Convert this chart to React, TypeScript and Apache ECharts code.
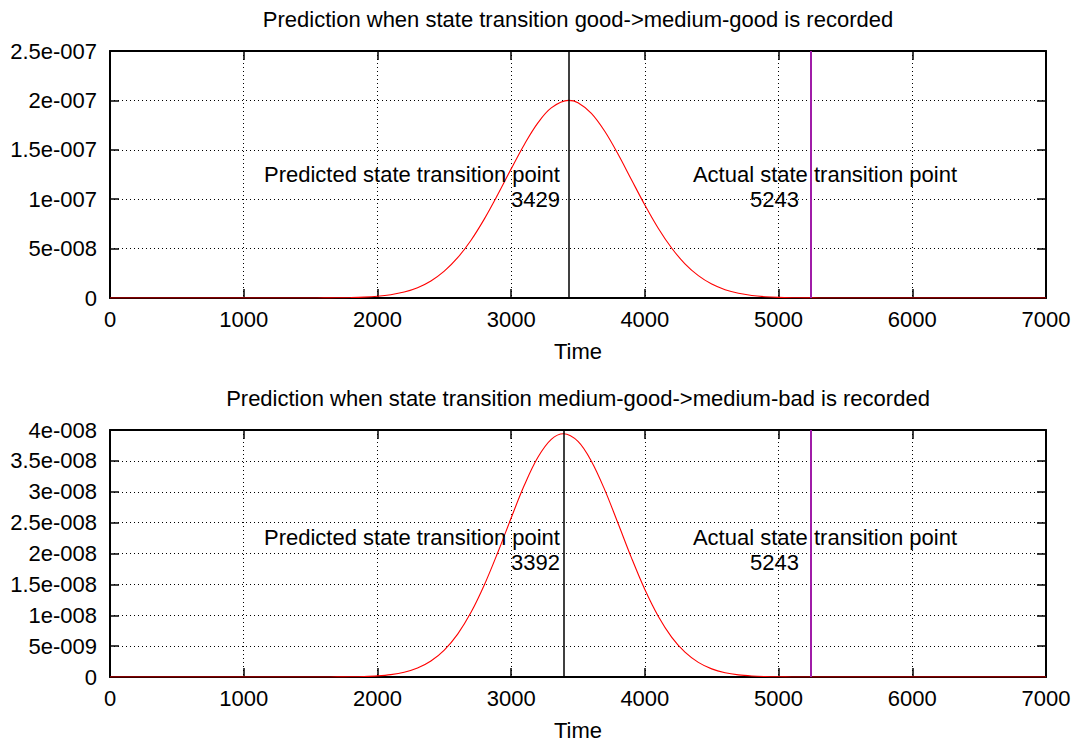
import { useEffect, useRef } from "react";
import * as echarts from "echarts";

// ---- Data ----
const xTickLabels = ["0", "1000", "2000", "3000", "4000", "5000", "6000", "7000"];
const topYTickLabels = ["0", "5e-008", "1e-007", "1.5e-007", "2e-007", "2.5e-007"];
const bottomYTickLabels = [
  "0", "5e-009", "1e-008", "1.5e-008", "2e-008", "2.5e-008", "3e-008", "3.5e-008", "4e-008",
];

const topTitle = "Prediction when state transition good->medium-good is recorded";
const bottomTitle = "Prediction when state transition medium-good->medium-bad is recorded";
const xAxisName = "Time";
const predictedText = "Predicted state transition point";
const actualText = "Actual state transition point";

const topPredicted = 3429;
const bottomPredicted = 3392;
const actualTransition = 5243;

const topTimes = [
  0, 500, 1000, 1500, 1600, 1700, 1800, 1900, 2000, 2100, 2200, 2300, 2400, 2500, 2600, 2700,
  2800, 2900, 3000, 3100, 3200, 3300, 3429, 3500, 3600, 3700, 3800, 3900, 4000, 4100, 4200,
  4300, 4400, 4500, 4600, 4700, 4800, 4900, 5000, 5100, 5200, 5300, 5500, 6000, 6500, 7000,
];
const topDensity = [
  0, 0, 0, 3.7e-11, 8.7e-11, 1.99e-10, 4.33e-10, 8.98e-10, 1.78e-9, 3.37e-9, 6.08e-9, 1.049e-8,
  1.729e-8, 2.718e-8, 4.08e-8, 5.85e-8, 8.01e-8, 1.047e-7, 1.307e-7, 1.557e-7, 1.772e-7,
  1.924e-7, 2.0e-7, 1.977e-7, 1.869e-7, 1.688e-7, 1.455e-7, 1.197e-7, 9.41e-8, 7.06e-8, 5.06e-8,
  3.46e-8, 2.26e-8, 1.409e-8, 8.4e-9, 4.77e-9, 2.59e-9, 1.34e-9, 6.6e-10, 3.1e-10, 1.4e-10,
  6e-11, 0, 0, 0, 0,
];

const bottomTimes = [
  0, 500, 1000, 1500, 1600, 1700, 1800, 1900, 2000, 2100, 2200, 2300, 2400, 2500, 2600, 2700,
  2800, 2900, 3000, 3100, 3200, 3300, 3392, 3500, 3600, 3700, 3800, 3900, 4000, 4100, 4200,
  4300, 4400, 4500, 4600, 4700, 4800, 4900, 5000, 5100, 5200, 5500, 6000, 6500, 7000,
];
const bottomDensity = [
  0, 0, 0, 2e-12, 5.4e-12, 1.4e-11, 3.5e-11, 8.3e-11, 1.85e-10, 3.88e-10, 7.71e-10, 1.452e-9,
  2.585e-9, 4.354e-9, 6.94e-9, 1.047e-8, 1.494e-8, 2.016e-8, 2.575e-8, 3.112e-8, 3.558e-8,
  3.849e-8, 3.94e-8, 3.815e-8, 3.495e-8, 3.03e-8, 2.485e-8, 1.929e-8, 1.416e-8, 9.84e-9,
  6.47e-9, 4.02e-9, 2.37e-9, 1.317e-9, 6.94e-10, 3.46e-10, 1.63e-10, 7.3e-11, 3.1e-11, 1.2e-11,
  5e-12, 0, 0, 0, 0,
];

// ---- Axis ranges ----
const xMax = 7000;
const xInterval = 1000;
const topYMax = 2.5e-7;
const topYInterval = 5e-8;
const bottomYMax = 4e-8;
const bottomYInterval = 5e-9;

// ---- Styling ----
const FONT = "'Liberation Sans', Arial, Helvetica, sans-serif";
const FS = 22;
const PLOT_LEFT = 110;
const PLOT_WIDTH = 936;
const PLOT_HEIGHT = 247;
const TOP_GRID_TOP = 51;
const BOTTOM_GRID_TOP = 430;
const PURPLE = "#a01ca8";

const gridDots = { color: "#000", width: 1, type: [1, 3] as number[] };
const tickStyle = { show: true, inside: true, length: 9, lineStyle: { color: "#000", width: 1.5 } };
const borderStyle = { show: true, onZero: false, lineStyle: { color: "#000", width: 2 } };
const textBase = { fontSize: FS, color: "#000", fontFamily: FONT };

function makeAxes(gridIndex: number, yMax: number, yInterval: number, yLabels: string[]) {
  const xBottom = {
    gridIndex,
    type: "value",
    min: 0,
    max: xMax,
    interval: xInterval,
    position: "bottom",
    name: xAxisName,
    nameLocation: "middle",
    nameGap: 42,
    nameTextStyle: { ...textBase },
    axisLine: borderStyle,
    axisTick: tickStyle,
    axisLabel: {
      ...textBase,
      margin: 10,
      formatter: (v: number) => xTickLabels[Math.round(v / xInterval)] ?? "",
    },
    splitLine: { show: true, lineStyle: gridDots },
  };
  const xTop = {
    gridIndex,
    type: "value",
    min: 0,
    max: xMax,
    interval: xInterval,
    position: "top",
    axisLine: borderStyle,
    axisTick: tickStyle,
    axisLabel: { show: false },
    splitLine: { show: false },
  };
  const yLeft = {
    gridIndex,
    type: "value",
    min: 0,
    max: yMax,
    interval: yInterval,
    position: "left",
    axisLine: borderStyle,
    axisTick: tickStyle,
    axisLabel: {
      ...textBase,
      margin: 13,
      formatter: (v: number) => yLabels[Math.round(v / yInterval)] ?? "",
    },
    splitLine: { show: true, lineStyle: gridDots },
  };
  const yRight = {
    gridIndex,
    type: "value",
    min: 0,
    max: yMax,
    interval: yInterval,
    position: "right",
    axisLine: borderStyle,
    axisTick: tickStyle,
    axisLabel: { show: false },
    splitLine: { show: false },
  };
  return { x: [xBottom, xTop], y: [yLeft, yRight] };
}

function curveSeries(axisIdx: number, times: number[], values: number[], predicted: number) {
  return {
    type: "line",
    xAxisIndex: axisIdx,
    yAxisIndex: axisIdx,
    data: times.map((t, i) => [t, values[i]]),
    symbol: "none",
    showSymbol: false,
    smooth: 0.35,
    silent: true,
    lineStyle: { color: "#ff0000", width: 1.1 },
    z: 3,
    markLine: {
      silent: true,
      symbol: ["none", "none"],
      label: { show: false },
      emphasis: { disabled: true },
      data: [
        { xAxis: predicted, lineStyle: { color: "#000", width: 1.5, type: "solid" } },
        { xAxis: actualTransition, lineStyle: { color: PURPLE, width: 2, type: "solid" } },
      ],
    },
  };
}

function note(x: number, y: number, text: string, align: string) {
  return {
    value: [x, y],
    label: {
      show: true,
      position: [0, 0],
      align,
      verticalAlign: "middle",
      formatter: text,
      textBorderWidth: 0,
      textBorderColor: "transparent",
      opacity: 1,
      ...textBase,
    },
  };
}

function notesSeries(axisIdx: number, data: any[]) {
  return {
    type: "scatter",
    xAxisIndex: axisIdx,
    yAxisIndex: axisIdx,
    symbolSize: 0,
    silent: true,
    itemStyle: { color: "#000", opacity: 0 },
    data,
    z: 5,
  };
}

export default function App() {
  const ref = useRef<HTMLDivElement>(null);
  useEffect(() => {
    if (!ref.current) return;
    const chart = echarts.init(ref.current, null, { renderer: "svg" });
    const a0 = makeAxes(0, topYMax, topYInterval, topYTickLabels);
    const a1 = makeAxes(1, bottomYMax, bottomYInterval, bottomYTickLabels);
    const center = PLOT_LEFT + PLOT_WIDTH / 2;

    const option: any = {
      animation: false,
      backgroundColor: "#fff",
      grid: [
        { left: PLOT_LEFT, top: TOP_GRID_TOP, width: PLOT_WIDTH, height: PLOT_HEIGHT },
        { left: PLOT_LEFT, top: BOTTOM_GRID_TOP, width: PLOT_WIDTH, height: PLOT_HEIGHT },
      ],
      xAxis: [...a0.x, ...a1.x],
      yAxis: [...a0.y, ...a1.y],
      graphic: [
        {
          type: "text",
          x: center,
          y: 19,
          silent: true,
          style: { text: topTitle, align: "center", verticalAlign: "middle", fill: "#000", fontSize: FS, fontFamily: FONT },
        },
        {
          type: "text",
          x: center,
          y: 398,
          silent: true,
          style: { text: bottomTitle, align: "center", verticalAlign: "middle", fill: "#000", fontSize: FS, fontFamily: FONT },
        },
      ],
      series: [
        curveSeries(0, topTimes, topDensity, topPredicted),
        curveSeries(2, bottomTimes, bottomDensity, bottomPredicted),
        notesSeries(0, [
          note(3365, 1.245e-7, predictedText, "right"),
          note(3365, 0.992e-7, String(topPredicted), "right"),
          note(5347, 1.255e-7, actualText, "center"),
          note(5153, 0.992e-7, String(actualTransition), "right"),
        ]),
        notesSeries(2, [
          note(3365, 2.259e-8, predictedText, "right"),
          note(3365, 1.862e-8, String(bottomPredicted), "right"),
          note(5347, 2.267e-8, actualText, "center"),
          note(5153, 1.862e-8, String(actualTransition), "right"),
        ]),
      ],
    };
    chart.setOption(option);
    return () => chart.dispose();
  }, []);
  return (
    <div
      ref={ref}
      style={{ position: "fixed", left: 0, top: 0, width: 1079, height: 743, background: "#fff" }}
    />
  );
}
